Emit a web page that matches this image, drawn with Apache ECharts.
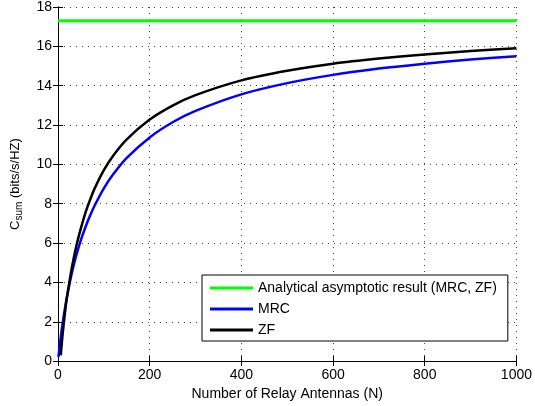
<!DOCTYPE html>
<html>
<head>
<meta charset="utf-8">
<script src="https://cdn.jsdelivr.net/npm/echarts@6/dist/echarts.min.js"></script>
<style>
  html, body { margin: 0; padding: 0; background: #fff; }
  #main { width: 535px; height: 406px; }
</style>
</head>
<body>
<div id="main"></div>
<script>
// values
var mrcN = [1, 2, 4, 6, 8, 10, 15, 20, 30, 40, 50, 60, 70, 80, 100, 120, 150, 200, 250, 300, 400, 500, 600, 700, 800, 900, 1000];
var mrcC = [0.22, 0.43, 0.84, 1.22, 1.57, 1.9, 2.66, 3.33, 4.46, 5.38, 6.16, 6.82, 7.4, 7.91, 8.78, 9.48, 10.33, 11.37, 12.14, 12.72, 13.56, 14.13, 14.55, 14.87, 15.12, 15.33, 15.5];
var zfN = [6, 8, 10, 15, 20, 30, 40, 50, 60, 70, 80, 100, 120, 150, 200, 250, 300, 400, 500, 600, 700, 800, 900, 1000];
var zfC = [0.29, 0.84, 1.34, 2.43, 3.3, 4.72, 5.85, 6.76, 7.55, 8.2, 8.78, 9.71, 10.43, 11.27, 12.28, 12.99, 13.52, 14.27, 14.76, 15.12, 15.38, 15.59, 15.76, 15.9];
var asymN = [0, 1000];
var asymC = [17.3, 17.3];
var xTicks = [0, 200, 400, 600, 800, 1000];
var yTicks = [0, 2, 4, 6, 8, 10, 12, 14, 16, 18];

function pairs(xs, ys) {
  return xs.map(function (x, i) { return [x, ys[i]]; });
}

var font = 'Liberation Sans, Arial, sans-serif';
var chart = echarts.init(document.getElementById('main'));

var tickIn = { show: true, inside: true, length: 5, lineStyle: { color: '#000' } };
var grid = { show: true, type: [1, 5], color: '#444', width: 1 };

chart.setOption({
  animation: false,
  grid: { left: 57, right: 16, top: 7, bottom: 39 },
  legend: {
    orient: 'vertical',
    left: 202,
    top: 275,
    padding: [5, 11, 3, 8],
    itemGap: 5,
    itemWidth: 43,
    itemHeight: 3,
    icon: 'rect',
    backgroundColor: '#fff',
    borderColor: '#000',
    borderWidth: 1,
    borderRadius: 0,
    textStyle: { fontFamily: font, fontSize: 14, color: '#000', lineHeight: 16 },
    data: ['Analytical asymptotic result (MRC, ZF)', 'MRC', 'ZF']
  },
  xAxis: [{
    type: 'value', min: xTicks[0], max: xTicks[xTicks.length - 1], interval: 200,
    name: 'Number of Relay Antennas (N)', nameLocation: 'middle', nameGap: 22,
    nameTextStyle: { fontFamily: font, fontSize: 14, color: '#000' },
    axisLine: { lineStyle: { color: '#000', width: 1 } },
    axisTick: tickIn,
    axisLabel: { fontFamily: font, fontSize: 14, color: '#000', margin: 7, formatter: function (v) { return String(v); } },
    splitLine: { lineStyle: grid }
  }, {
    type: 'value', position: 'top', min: 0, max: 1000, interval: 200,
    axisLine: { show: true, lineStyle: { color: '#000', width: 1 } },
    axisTick: tickIn, axisLabel: { show: false }, splitLine: { show: false }
  }],
  yAxis: [{
    type: 'value', min: yTicks[0], max: yTicks[yTicks.length - 1], interval: 2,
    name: '{a|C}{s|sum}{a| (bits/s/HZ)}', nameLocation: 'middle', nameGap: 34,
    nameTextStyle: {
      fontFamily: font, color: '#000',
      rich: {
        a: { fontFamily: font, fontSize: 13, color: '#000', lineHeight: 18, verticalAlign: 'middle' },
        s: { fontFamily: font, fontSize: 10, color: '#000', lineHeight: 18, verticalAlign: 'bottom', padding: [6, 0, 0, 0] }
      }
    },
    axisLine: { show: true, lineStyle: { color: '#000', width: 1 } },
    axisTick: tickIn,
    axisLabel: { fontFamily: font, fontSize: 14, color: '#000', margin: 6 },
    splitLine: { lineStyle: grid }
  }, {
    type: 'value', position: 'right', min: 0, max: 18, interval: 2,
    axisLine: { show: true, lineStyle: { color: '#000', width: 1 } },
    axisTick: tickIn, axisLabel: { show: false }, splitLine: { show: false }
  }],
  series: [{
    name: 'Analytical asymptotic result (MRC, ZF)', type: 'line', showSymbol: false,
    data: pairs(asymN, asymC), color: '#00ff00', lineStyle: { width: 3, color: '#00ff00' }
  }, {
    name: 'MRC', type: 'line', showSymbol: false, smooth: 0.3,
    data: pairs(mrcN, mrcC), color: '#0000ff', lineStyle: { width: 2.5, color: '#0000ff' }
  }, {
    name: 'ZF', type: 'line', showSymbol: false, smooth: 0.3,
    data: pairs(zfN, zfC), color: '#000', lineStyle: { width: 2.5, color: '#000' }
  }]
});
</script>
</body>
</html>
